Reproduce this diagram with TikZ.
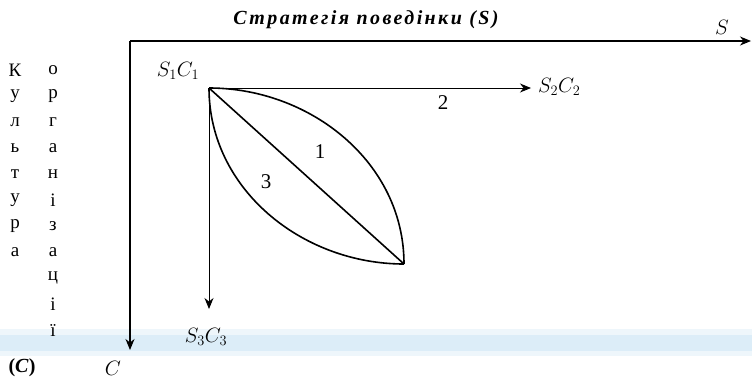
\documentclass[tikz,border=0pt]{standalone}
\usepackage{fontspec}
\setmainfont{Liberation Serif}
\usepackage{amsmath}
\usepackage{xcolor}
\usepackage{tikz}
\usetikzlibrary{arrows.meta, backgrounds}
\definecolor{bandlight}{HTML}{EEF6FB}
\definecolor{banddark}{HTML}{DCEDF8}
\tikzset{
    axis/.style={-{Stealth[length=11pt, width=9pt, inset=3.5pt]}, line width=1.2pt},
    arrow/.style={-{Stealth[length=11pt, width=9pt, inset=3.5pt]}, line width=1pt},
    curve/.style={line width=1.6pt},
    lbl/.style={font=\fontsize{20}{22}\selectfont, inner sep=0pt},
    letter/.style={font=\fontsize{19}{21}\selectfont, inner sep=0pt},
    num/.style={font=\fontsize{21}{23}\selectfont, inner sep=0pt},
}

\begin{document}
\begin{tikzpicture}[x=1pt, y=-1pt]
    \useasboundingbox (0,0) rectangle (752,378);

    % Band behind the lower axis end
    \begin{scope}[on background layer]
        \fill[bandlight] (0,329) rectangle (752,356);
        \fill[banddark] (0,335) rectangle (752,351);
    \end{scope}

    % Points
    \coordinate (origin) at (130,41);
    \coordinate (send) at (751,41);
    \coordinate (cend) at (130,350);
    \coordinate (s1c1) at (209,88);
    \coordinate (s2c2) at (531,88);
    \coordinate (s3c3) at (209,309);
    \coordinate (final) at (404,264);

    % Axes
    \node[lbl, font=\fontsize{20}{22}\selectfont\bfseries\itshape\addfontfeatures{LetterSpace=12}] (title) at (366,20) {Стратегія поведінки (S)};
    \node[lbl] (slabel) at (722,27) {$S$};
    \node[lbl] (clabel) at (113,368) {$C$};
    \node[lbl, font=\fontsize{20}{22}\selectfont\bfseries] (cname) at (22,368) {(\textit{C})};
    \draw[axis] (origin) -- (send);
    \draw[axis] (origin) -- (cend);

    % Vertical caption
    \foreach \ch [count=\i] in {К,у,л,ь,т,у,р,а}
        \node[letter] (k\i) at (15,{70+26*(\i-1)}) {\ch};
    \foreach \ch [count=\i] in {о,р,г,а,н,і,з,а,ц,і,ї}
        \node[letter] (o\i) at (53,{70+26*(\i-1)}) {\ch};

    % States
    \node[lbl] (l1) at (178,71) {$S_1C_1$};
    \node[lbl, anchor=west] (l2) at (538,87) {$S_2C_2$};
    \node[lbl] (l3) at (206,337) {$S_3C_3$};

    % Paths
    \draw[arrow] (s1c1) -- (s2c2);
    \draw[arrow] (s1c1) -- (s3c3);
    \draw[curve] (s1c1) -- (final);
    \draw[curve] (s1c1) .. controls (310,88) and (404,162) .. (final);
    \draw[curve] (s1c1) .. controls (209,189) and (302,264) .. (final);
    \node[num] (n1) at (320,152) {1};
    \node[num] (n2) at (443,103) {2};
    \node[num] (n3) at (266,182) {3};
\end{tikzpicture}
\end{document}
